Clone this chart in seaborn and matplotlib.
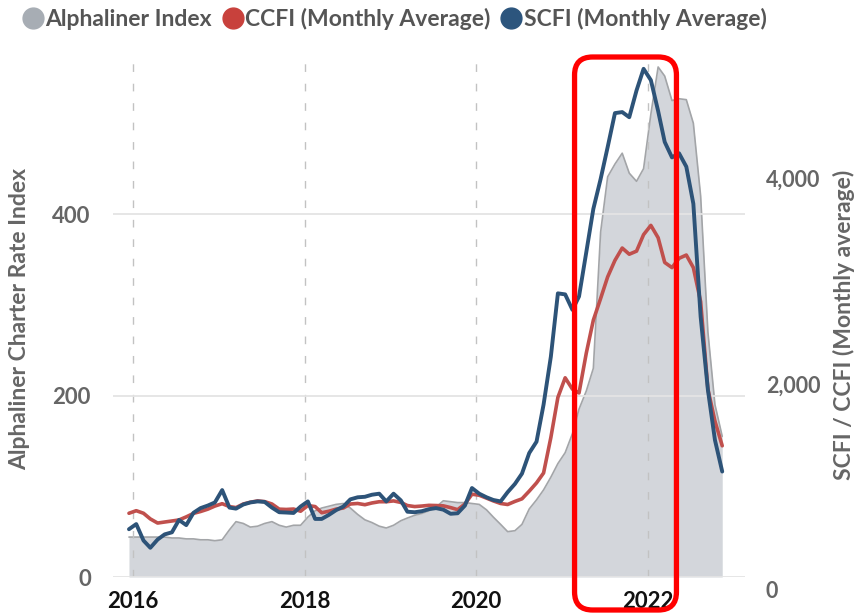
import numpy as np
import pandas as pd
import matplotlib
matplotlib.use("Agg")
import matplotlib.pyplot as plt
import matplotlib.dates as mdates
import seaborn as sns
from matplotlib.patches import FancyBboxPatch
from matplotlib.lines import Line2D

# ---------------- data ----------------
months = pd.date_range("2015-12-01", periods=84, freq="MS") + pd.Timedelta(days=14)

alphaliner = [44, 44, 44, 44, 44, 44, 43, 43, 42, 42, 41, 41, 40, 41,
              52, 61, 59, 55, 56, 59, 61, 57, 55, 57,
              57, 66, 73, 76, 78, 80, 81, 76, 69, 63,
              60, 56, 54, 57, 62, 65, 68, 70, 73, 77,
              84, 83, 82, 82, 81, 80, 74, 66, 58, 50,
              51, 58, 75, 85, 96, 110, 125, 137, 158, 185,
              205, 230, 380, 441, 455, 467, 445, 436, 450, 510,
              562, 552, 525, 527, 526, 500, 420, 270, 190, 155]

ccfi = [745, 770, 745, 690, 650, 660, 670, 680, 710, 744, 762, 785, 815, 838,
        810, 800, 835, 852, 865, 858, 835, 785, 782, 786,
        765, 820, 810, 750, 765, 785, 796, 835, 840, 828,
        845, 857, 857, 865, 850, 820, 810, 815, 822, 820,
        817, 800, 780, 835, 930, 920, 892, 865, 840, 830,
        860, 885, 960, 1040, 1136, 1480, 1870, 2060, 1950, 1913,
        2300, 2620, 2830, 3040, 3200, 3320, 3260, 3290, 3450, 3540,
        3420, 3180, 3130, 3220, 3252, 3130, 2800, 1950, 1640, 1400]

scfi = [590, 640, 480, 410, 490, 540, 560, 680, 630, 750, 795, 820, 850, 970,
        800, 790, 830, 850, 860, 855, 800, 755, 752, 748,
        810, 860, 690, 690, 730, 775, 810, 880, 900, 905,
        925, 935, 860, 935, 870, 760, 755, 765, 785, 795,
        780, 740, 745, 820, 990, 935, 900, 874, 860, 950,
        1030, 1130, 1330, 1440, 1800, 2265, 2880, 2870, 2720, 2850,
        3280, 3700, 3990, 4300, 4630, 4640, 4590, 4850, 5060, 4950,
        4650, 4350, 4200, 4240, 4110, 3750, 2654, 1942, 1456, 1150]

year_labels = ["2016", "2018", "2020", "2022"]
left_ticks = [0, 200, 400]
right_ticks = [0, 2000, 4000]
series_names = ["Alphaliner Index", "CCFI (Monthly Average)", "SCFI (Monthly Average)"]
highlight = (pd.Timestamp("2021-02-24"), pd.Timestamp("2022-05-04"))

# ---------------- style ----------------
sns.set_theme(style="white")
plt.rcParams["font.family"] = ["Lato", "DejaVu Sans"]

C_AREA = "#d3d6db"
C_AREA_LINE = "#a3a5a8"
C_RED = "#c0504d"
C_BLUE = "#2d5378"
C_TXT = "#666666"

W, H = 856, 613
fig = plt.figure(figsize=(W / 100, H / 100), dpi=100)


def px_axes(l, t, r, b):
    return [l / W, 1 - b / H, (r - l) / W, (b - t) / H]


ax = fig.add_axes(px_axes(113, 60, 745, 577))
ax2 = fig.add_axes(px_axes(113, 60, 745, 590), sharex=ax)
ax2.patch.set_visible(False)

# area (left axis)
ax.fill_between(months, alphaliner, color=C_AREA, lw=0, zorder=1)
sns.lineplot(x=months, y=alphaliner, ax=ax, color=C_AREA_LINE, lw=1.2, zorder=2)

# lines (right axis)
sns.lineplot(x=months, y=ccfi, ax=ax2, color=C_RED, lw=2.6, zorder=3)
sns.lineplot(x=months, y=scfi, ax=ax2, color=C_BLUE, lw=2.8, zorder=4)

# axes limits
ax.set_xlim(pd.Timestamp("2015-10-08"), pd.Timestamp("2023-02-20"))
ax.set_ylim(0, (577 - 60) / 0.9075)
ax2.set_ylim(0, (590 - 60) / 0.103)

# grid
ax.set_axisbelow(False)
ax.grid(axis="y", color="#e4e4e4", lw=1.3, ls="-", zorder=2.5)
ax.grid(axis="x", color="#c2c2c2", lw=1.0, ls=(0, (5.5, 8.5)), zorder=2.5)
ax2.grid(False)

# x ticks
ax.set_xticks([pd.Timestamp(f"{y}-01-01") for y in year_labels])
ax.set_xticklabels(year_labels, fontweight="bold", fontsize=16, color="#111111")
ax.tick_params(axis="x", length=0, pad=10)
ax2.tick_params(axis="x", labelbottom=False, length=0)

# left y
ax.set_yticks(left_ticks)
ax.set_yticklabels([f"{v:,}" for v in left_ticks], fontweight="bold", fontsize=16, color=C_TXT)
ax.tick_params(axis="y", length=0, pad=16)
ax.set_ylabel("Alphaliner Charter Rate Index", fontsize=16.5, fontweight="bold", color=C_TXT)
ax.yaxis.set_label_coords((30 - 113) / 632, 0.5)

# right y
ax2.yaxis.tick_right()
ax2.yaxis.set_label_position("right")
ax2.set_yticks(right_ticks)
ax2.set_yticklabels([f"{v:,}" for v in right_ticks], fontweight="bold", fontsize=15.5, color=C_TXT)
ax2.tick_params(axis="y", length=0, pad=15)
ax2.set_ylabel("SCFI / CCFI (Monthly average)", fontsize=16.5, fontweight="bold", color=C_TXT,
               rotation=90)
ax2.yaxis.set_label_coords((833 - 113) / 632, 0.5)

for a in (ax, ax2):
    for s in a.spines.values():
        s.set_visible(False)
ax.set_xlabel("")
ax2.set_xlabel("")

# legend
handles = [Line2D([], [], ls="none", marker="o", markersize=15, color=c)
           for c in ("#a7adb4", "#c8413c", "#2c557d")]
fig.legend(handles, series_names, loc="upper left", bbox_to_anchor=(0.002, 1.02),
           ncol=3, frameon=False, handletextpad=0.1, columnspacing=0.45,
           handlelength=0.9, prop={"weight": "bold", "size": 16.5}, labelcolor="#555555")

# highlight box (anchored to data x)
fig.canvas.draw()
x0 = ax.transData.transform((mdates.date2num(highlight[0]), 0))[0]
x1 = ax.transData.transform((mdates.date2num(highlight[1]), 0))[0]
ov = fig.add_axes([0, 0, 1, 1])
ov.set_xlim(0, W)
ov.set_ylim(0, H)
ov.axis("off")
ov.add_patch(FancyBboxPatch((x0, H - 610), x1 - x0, 610 - 57,
                            boxstyle="round,pad=0,rounding_size=18",
                            fill=False, ec="#ff0000", lw=3.8, zorder=10))

fig.savefig("out.png", dpi=100)
